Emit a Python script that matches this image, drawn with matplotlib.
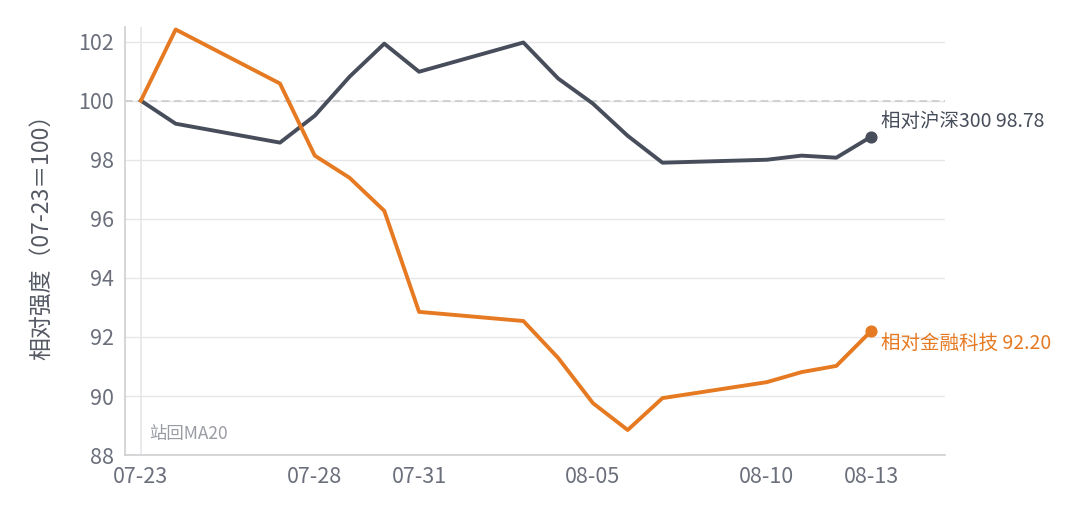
import matplotlib
matplotlib.use('Agg')
import matplotlib.pyplot as plt
import matplotlib.dates as mdates
import pandas as pd

plt.rcParams['font.family'] = ['Noto Sans CJK SC', 'DejaVu Sans']

dates = pd.to_datetime(['2020-07-23', '2020-07-24', '2020-07-27', '2020-07-28', '2020-07-29',
                        '2020-07-30', '2020-07-31', '2020-08-03', '2020-08-04', '2020-08-05',
                        '2020-08-06', '2020-08-07', '2020-08-10', '2020-08-11', '2020-08-12',
                        '2020-08-13'])
hs300 = [100.0, 99.22, 98.58, 99.49, 100.81, 101.93, 100.98, 101.97, 100.75, 99.90,
         98.81, 97.90, 98.00, 98.14, 98.07, 98.78]
fintech = [100.0, 102.41, 100.58, 98.14, 97.39, 96.27, 92.85, 92.54, 91.29, 89.76,
           88.85, 89.93, 90.47, 90.81, 91.02, 92.20]
tick_dates = pd.to_datetime(['2020-07-23', '2020-07-28', '2020-07-31', '2020-08-05',
                             '2020-08-10', '2020-08-13'])
y_ticks = [88, 90, 92, 94, 96, 98, 100, 102]

c_gray = '#474d5a'
c_orange = '#e67a22'
c_tick = '#6b6f7b'
c_grid = '#e6e6e9'

fig = plt.figure(figsize=(10.8, 5.16), dpi=100)
ax = fig.add_axes([0.1157, 0.118, 0.7593, 0.830])

ax.set_axisbelow(True)
for y in y_ticks:
    ax.axhline(y, color=c_grid, lw=1, zorder=0)
ax.axhline(100, color='#c8c8cc', lw=1.1, ls=(0, (5, 3)), zorder=1)
ax.axvline(dates[0], color=c_grid, lw=1.2, zorder=0)

ax.plot(dates, hs300, color=c_gray, lw=2.8, zorder=3)
ax.plot(dates, fintech, color=c_orange, lw=2.8, zorder=3)
ax.scatter([dates[-1]], [hs300[-1]], s=60, color=c_gray, zorder=4)
ax.scatter([dates[-1]], [fintech[-1]], s=60, color=c_orange, zorder=4)

ax.annotate(f'相对沪深300 {hs300[-1]:.2f}', (dates[-1], hs300[-1]), xytext=(7, 11),
            textcoords='offset points', color=c_gray, fontsize=14, va='center', ha='left')
ax.annotate(f'相对金融科技 {fintech[-1]:.2f}', (dates[-1], fintech[-1]), xytext=(7, -9),
            textcoords='offset points', color=c_orange, fontsize=14, va='center', ha='left')
ax.text(0.03, 0.05, '站回MA20', transform=ax.transAxes, color='#9a9ca4', fontsize=12.5,
        va='center', ha='left')

ax.set_xlim(dates[0] - pd.Timedelta(hours=11), dates[-1] + pd.Timedelta(hours=51))
ax.set_ylim(88, 102.5)
ax.set_xticks(tick_dates)
ax.xaxis.set_major_formatter(mdates.DateFormatter('%m-%d'))
ax.set_yticks(y_ticks)
ax.tick_params(length=0, labelsize=15.5, colors=c_tick)
ax.tick_params(axis='y', pad=8)
ax.tick_params(axis='x', pad=8)
ax.set_ylabel('相对强度（07-23＝100）', fontsize=16.5, color='#555963')
ax.yaxis.set_label_coords(-0.088, 0.522)

for s in ['top', 'right']:
    ax.spines[s].set_visible(False)
for s in ['left', 'bottom']:
    ax.spines[s].set_color('#cfcfd3')
    ax.spines[s].set_linewidth(1.2)

fig.savefig('out.png', dpi=100)
